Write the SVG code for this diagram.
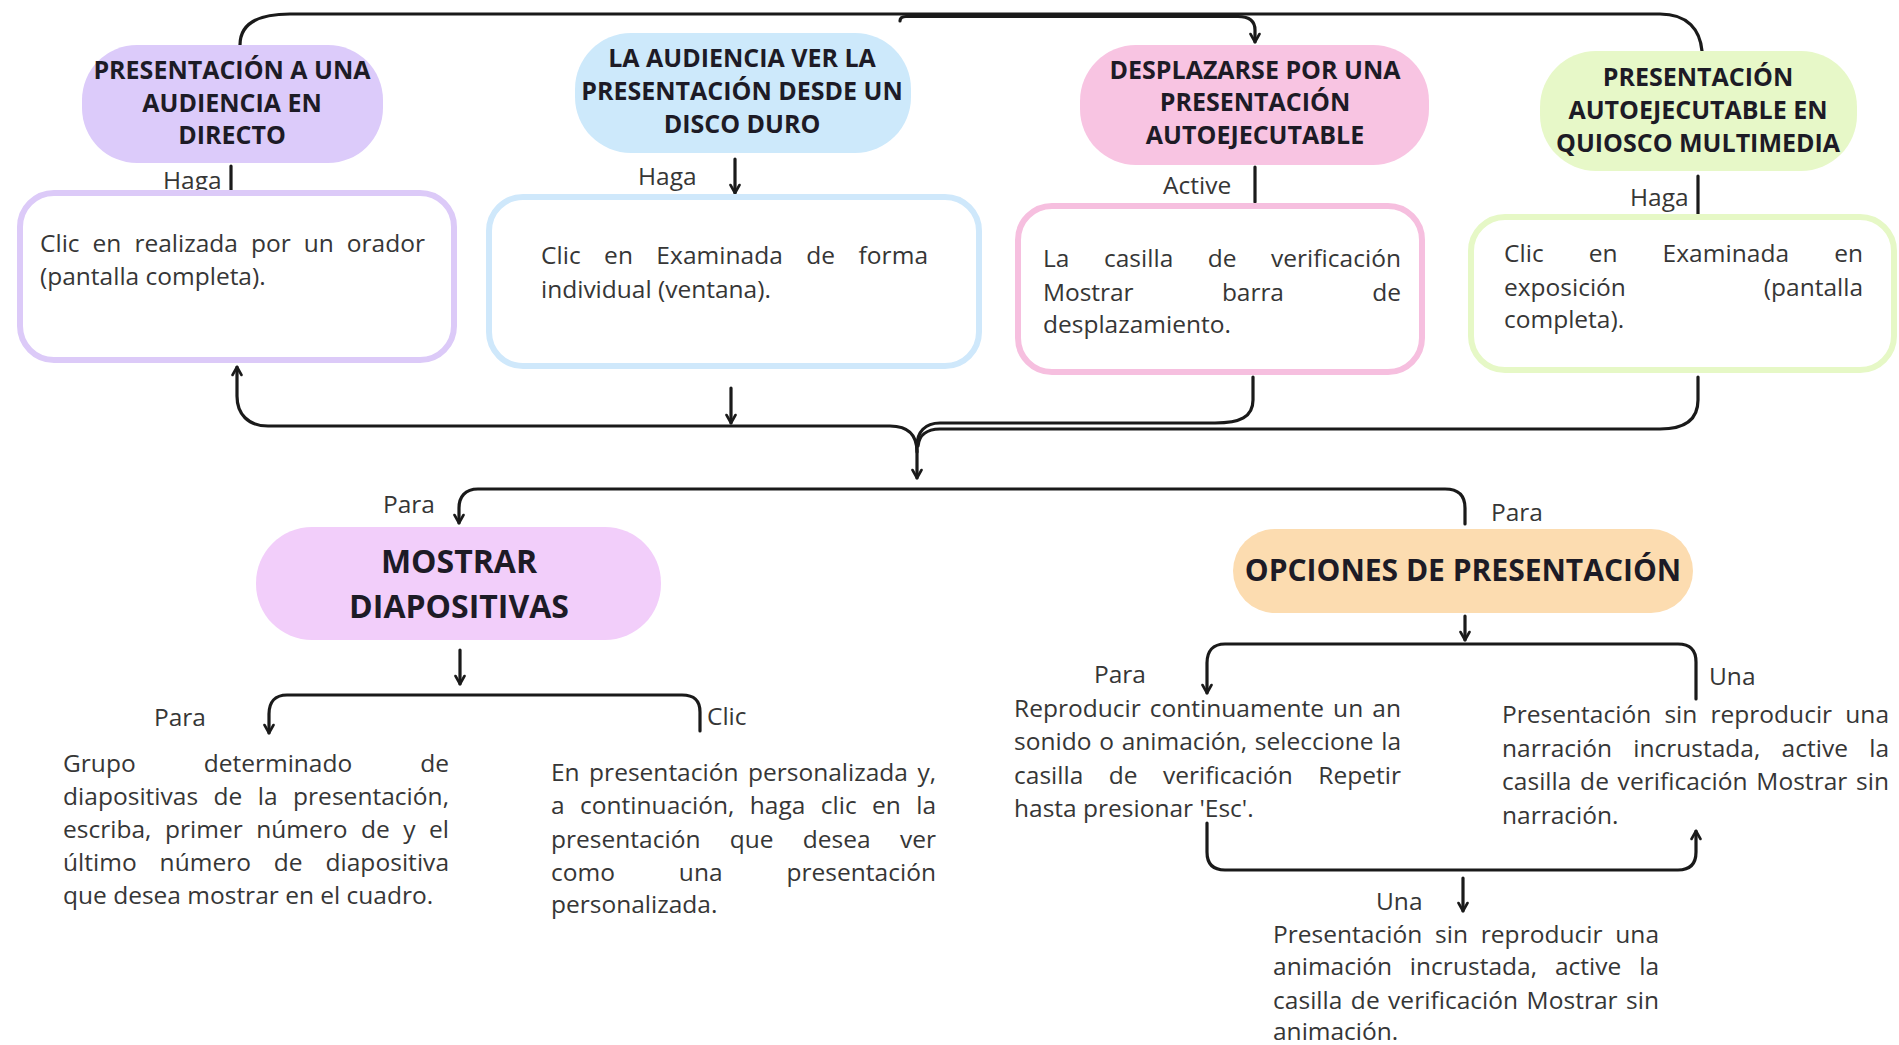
<svg xmlns="http://www.w3.org/2000/svg" width="1899" height="1045" viewBox="0 0 1899 1045">
<defs>
<style>
.hd{font-family:"Open Sans","Liberation Sans",sans-serif;font-weight:700;font-size:25px;fill:#1d1b26;text-anchor:middle}
.bd{font-family:"Open Sans","Liberation Sans",sans-serif;font-size:24.5px;fill:#363636}
.ln{fill:none;stroke:#1a1a1a;stroke-width:3.2;stroke-linecap:round;stroke-linejoin:round}
.ar{marker-end:url(#ah)}
.box{fill:#ffffff;stroke-width:6}
</style>
<marker id="ah" viewBox="0 0 12 12" refX="10" refY="6" markerWidth="12" markerHeight="12" markerUnits="userSpaceOnUse" orient="auto">
<path d="M2,1.5 L10,6 L2,10.5" fill="none" stroke="#1a1a1a" stroke-width="2.6" stroke-linecap="round" stroke-linejoin="round"/>
</marker>
</defs>
<rect width="1899" height="1045" fill="#ffffff"/>

<g id="connectors">
<path class="ln" d="M240,45 C240,26 254,14 290,14 L1660,14 C1688,14 1700,30 1702,51"/>
<path class="ln ar" d="M900,21 Q900,16.5 906,16.5 L1238,16.5 Q1255,16.5 1255,30 L1255,42"/>
<line class="ln" x1="231" y1="166" x2="231" y2="190"/>
<path class="ln ar" d="M735,159 L735,193"/>
<line class="ln" x1="1255" y1="167" x2="1255" y2="202"/>
<line class="ln" x1="1698" y1="176" x2="1698" y2="214"/>
<path class="ln ar" d="M917,452 C917,436 909,426 890,426 L268,426 C248,426 237,414 237,396 L237,367"/>
<path class="ln ar" d="M731,388 L731,423"/>
<path class="ln ar" d="M1253,377 L1253,400 C1253,417 1240,423 1215,423 L940,423 C925,423 917,432 917,446 L917,478"/>
<path class="ln" d="M1698,377 L1698,400 C1698,420 1685,429 1660,429 L940,429 C926,429 919,436 918,446"/>
<path class="ln ar" d="M1465,524 L1465,508 C1465,495 1458,489 1445,489 L478,489 C465,489 459,497 459,508 L459,523"/>
<path class="ln ar" d="M460,650 L460,684"/>
<path class="ln ar" d="M700,731 L700,712 C700,700 694,695 682,695 L287,695 C275,695 269,702 269,714 L269,733"/>
<path class="ln ar" d="M1465,616 L1465,640"/>
<path class="ln ar" d="M1696,699 L1696,662 C1696,650 1690,644 1678,644 L1225,644 C1213,644 1207,651 1207,663 L1207,693"/>
<path class="ln ar" d="M1207,823 L1207,852 C1207,864 1213,870 1225,870 L1678,870 C1690,870 1696,864 1696,852 L1696,831"/>
<path class="ln ar" d="M1463,878 L1463,911"/>
</g>

<g id="labels">
<text class="bd" x="163" y="189">Haga</text>
<text class="bd" x="638" y="185">Haga</text>
<text class="bd" x="1163" y="194">Active</text>
<text class="bd" x="1630" y="206">Haga</text>
<text class="bd" x="383" y="513">Para</text>
<text class="bd" x="1491" y="521">Para</text>
<text class="bd" x="154" y="726">Para</text>
<text class="bd" x="707" y="725">Clic</text>
<text class="bd" x="1094" y="683">Para</text>
<text class="bd" x="1709" y="685">Una</text>
<text class="bd" x="1376" y="910">Una</text>
</g>

<g id="node-audiencia-directo">
<rect x="82" y="45" width="301" height="118" rx="55" fill="#dccbfa"/>
<text class="hd" x="232" y="79">PRESENTACIÓN A UNA</text>
<text class="hd" x="232" y="111.5">AUDIENCIA EN</text>
<text class="hd" x="232" y="144">DIRECTO</text>
</g>
<g id="box-orador">
<rect class="box" x="20" y="193" width="434" height="167" rx="34" stroke="#dccaf8"/>
<text class="bd" x="40" y="252" textLength="385" lengthAdjust="spacing" word-spacing="6.6">Clic en realizada por un orador</text>
<text class="bd" x="40" y="285">(pantalla completa).</text>
</g>

<g id="node-disco-duro">
<rect x="575" y="33" width="336" height="120" rx="56" fill="#cde9fb"/>
<text class="hd" x="742" y="67">LA AUDIENCIA VER LA</text>
<text class="hd" x="742" y="100">PRESENTACIÓN DESDE UN</text>
<text class="hd" x="742" y="133">DISCO DURO</text>
</g>
<g id="box-ventana">
<rect class="box" x="489" y="197" width="490" height="169" rx="34" stroke="#cfe8fb"/>
<text class="bd" x="541" y="264" textLength="387" lengthAdjust="spacing" word-spacing="17">Clic en Examinada de forma</text>
<text class="bd" x="541" y="298">individual (ventana).</text>
</g>

<g id="node-autoejecutable">
<rect x="1080" y="45" width="349" height="120" rx="56" fill="#f8c4e2"/>
<text class="hd" x="1255" y="79">DESPLAZARSE POR UNA</text>
<text class="hd" x="1255" y="111">PRESENTACIÓN</text>
<text class="hd" x="1255" y="144">AUTOEJECUTABLE</text>
</g>
<g id="box-desplazamiento">
<rect class="box" x="1018" y="206" width="404" height="166" rx="34" stroke="#f6bfdf"/>
<text class="bd" x="1043" y="267" textLength="358" lengthAdjust="spacing" word-spacing="28">La casilla de verificación</text>
<text class="bd" x="1043" y="301" textLength="358" lengthAdjust="spacing" word-spacing="82">Mostrar barra de</text>
<text class="bd" x="1043" y="333">desplazamiento.</text>
</g>

<g id="node-quiosco">
<rect x="1540" y="51" width="317" height="120" rx="56" fill="#e7f8c8"/>
<text class="hd" x="1698" y="86">PRESENTACIÓN</text>
<text class="hd" x="1698" y="119">AUTOEJECUTABLE EN</text>
<text class="hd" x="1698" y="152">QUIOSCO MULTIMEDIA</text>
</g>
<g id="box-exposicion">
<rect class="box" x="1471" y="217" width="423" height="153" rx="34" stroke="#e6f8c6"/>
<text class="bd" x="1504" y="262" textLength="359" lengthAdjust="spacing" word-spacing="38.5">Clic en Examinada en</text>
<text class="bd" x="1504" y="296">exposición</text>
<text class="bd" x="1863" y="296" text-anchor="end">(pantalla</text>
<text class="bd" x="1504" y="328">completa).</text>
</g>

<g id="node-mostrar">
<rect x="256" y="527" width="405" height="113" rx="56" fill="#f2cefa"/>
<text class="hd" x="459" y="573" style="font-size:32px">MOSTRAR</text>
<text class="hd" x="459" y="618" style="font-size:32px">DIAPOSITIVAS</text>
</g>

<g id="text-grupo">
<text class="bd" x="63" y="772" textLength="386" lengthAdjust="spacing" word-spacing="61.6">Grupo determinado de</text>
<text class="bd" x="63" y="805" textLength="386" lengthAdjust="spacing" word-spacing="9">diapositivas de la presentación,</text>
<text class="bd" x="63" y="838" textLength="386" lengthAdjust="spacing" word-spacing="7.1">escriba, primer número de y el</text>
<text class="bd" x="63" y="871" textLength="386" lengthAdjust="spacing" word-spacing="16.4">último número de diapositiva</text>
<text class="bd" x="63" y="904">que desea mostrar en el cuadro.</text>
</g>

<g id="text-personalizada">
<text class="bd" x="551" y="781" textLength="385" lengthAdjust="spacing" word-spacing="3.1">En presentación personalizada y,</text>
<text class="bd" x="551" y="814" textLength="385" lengthAdjust="spacing" word-spacing="8.9">a continuación, haga clic en la</text>
<text class="bd" x="551" y="848" textLength="385" lengthAdjust="spacing" word-spacing="22.9">presentación que desea ver</text>
<text class="bd" x="551" y="881" textLength="385" lengthAdjust="spacing" word-spacing="57.4">como una presentación</text>
<text class="bd" x="551" y="913">personalizada.</text>
</g>

<g id="node-opciones">
<rect x="1233" y="529" width="460" height="84" rx="42" fill="#fcdcb0"/>
<text class="hd" x="1463" y="581" style="font-size:30px">OPCIONES DE PRESENTACIÓN</text>
</g>

<g id="text-reproducir">
<text class="bd" x="1014" y="717" textLength="387" lengthAdjust="spacing" word-spacing="2.8">Reproducir continuamente un an</text>
<text class="bd" x="1014" y="750" textLength="387" lengthAdjust="spacing" word-spacing="1.3">sonido o animación, seleccione la</text>
<text class="bd" x="1014" y="784" textLength="387" lengthAdjust="spacing" word-spacing="19">casilla de verificación Repetir</text>
<text class="bd" x="1014" y="817">hasta presionar 'Esc'.</text>
</g>

<g id="text-narracion">
<text class="bd" x="1502" y="723" textLength="387" lengthAdjust="spacing" word-spacing="6.8">Presentación sin reproducir una</text>
<text class="bd" x="1502" y="757" textLength="387" lengthAdjust="spacing" word-spacing="14.9">narración incrustada, active la</text>
<text class="bd" x="1502" y="790" textLength="387" lengthAdjust="spacing" word-spacing="2.3">casilla de verificación Mostrar sin</text>
<text class="bd" x="1502" y="824">narración.</text>
</g>

<g id="text-animacion">
<text class="bd" x="1273" y="943" textLength="386" lengthAdjust="spacing" word-spacing="6.4">Presentación sin reproducir una</text>
<text class="bd" x="1273" y="975" textLength="386" lengthAdjust="spacing" word-spacing="11.5">animación incrustada, active la</text>
<text class="bd" x="1273" y="1009" textLength="386" lengthAdjust="spacing" word-spacing="2">casilla de verificación Mostrar sin</text>
<text class="bd" x="1273" y="1040">animación.</text>
</g>
</svg>
